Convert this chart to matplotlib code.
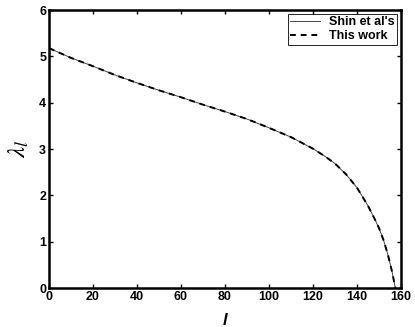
import numpy as np
import matplotlib
matplotlib.use('Agg')
import matplotlib.pyplot as plt

plt.rcParams['font.family'] = ['Liberation Sans', 'DejaVu Sans']
plt.rcParams['mathtext.fontset'] = 'stix'

# Shin et al's values
l_shin = [0, 10, 20, 30, 40, 50, 60, 70, 80, 90, 100, 110, 120, 125, 130,
          135, 140, 145, 148, 150, 152, 154, 156, 157.5]
lam_shin = [5.18, 4.97, 4.79, 4.60, 4.43, 4.27, 4.12, 3.96, 3.81, 3.65, 3.46,
            3.26, 3.01, 2.86, 2.69, 2.46, 2.17, 1.78, 1.50, 1.30, 1.05, 0.74,
            0.35, 0.0]

# this work
l_this = [0, 10, 20, 30, 40, 50, 60, 70, 80, 90, 100, 110, 120, 125, 130,
          135, 140, 145, 148, 150, 152, 154, 156, 157.5]
lam_this = [5.18, 4.97, 4.79, 4.60, 4.43, 4.27, 4.12, 3.96, 3.81, 3.65, 3.46,
            3.26, 3.01, 2.86, 2.69, 2.46, 2.17, 1.78, 1.50, 1.30, 1.05, 0.74,
            0.35, 0.0]

fig = plt.figure(figsize=(4.15, 3.27), dpi=100)
ax = fig.add_axes([0.118, 0.119, 0.848, 0.850])

ax.plot(l_shin, lam_shin, '-', color='#444444', linewidth=0.7, label="Shin et al's")
ax.plot(l_this, lam_this, '--', color='black', linewidth=1.4, dashes=(3, 2.5),
        label='This work')

ax.set_xlim(0, 160)
ax.set_ylim(0, 6)
ax.set_xticks(np.arange(0, 161, 20))
ax.set_yticks(np.arange(0, 7, 1))
ax.tick_params(direction='in', top=True, right=True, length=3, width=1,
               labelsize=9, pad=2)
for lab in ax.get_xticklabels() + ax.get_yticklabels():
    lab.set_fontweight('bold')
for s in ax.spines.values():
    s.set_linewidth(1.8)

ax.set_xlabel('l', fontsize=12, fontweight='bold', fontstyle='italic', labelpad=7)
ax.set_ylabel(r'$\lambda_{l}$', fontsize=18, labelpad=6)

leg = ax.legend(loc='upper right', prop={'weight': 'bold', 'size': 9},
                fancybox=False, framealpha=1, edgecolor='black',
                borderpad=0.2, labelspacing=0.15, handlelength=2.4,
                handletextpad=0.7, borderaxespad=0.3)
leg.get_frame().set_linewidth(0.6)

fig.savefig('out.png', dpi=100)
